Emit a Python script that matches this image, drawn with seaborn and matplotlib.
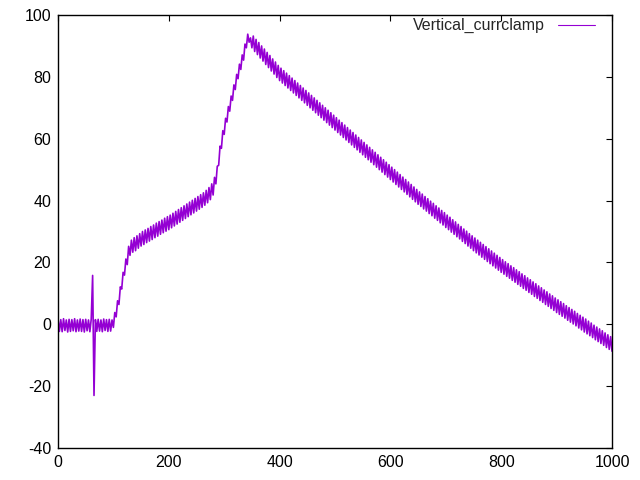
import numpy as np
import pandas as pd
import matplotlib
matplotlib.use("Agg")
import matplotlib.pyplot as plt
import seaborn as sns

# time axis (sample step 2.5)
t = np.arange(0, 1000.1, 2.5)

v_rest = [1.7, -2.3, 1.5, -2.4, 1.8, -2.0, 1.4, -2.5, 1.6, -2.3,
          1.5, -2.1, 1.8, -2.4, 1.4, -2.2, 1.7, -2.3, 1.5, -2.5,
          1.6, -2.1, 1.4, -2.4, 1.7, 15.8, -23.0, 1.5, -2.3, 1.6,
          -2.2, 1.4, -2.4, 1.7, -2.0, 1.5, -2.3, 1.6, -2.2, 1.4]
v_rise = [-1.0, 3.8, 2.4, 7.6, 6.4, 12.1, 11.4, 16.8, 15.9, 21.1,
          19.3, 25.2, 22.3, 27.2, 23.3, 28.0, 23.8, 28.6, 24.6, 29.3,
          25.3, 30.0, 25.8, 30.5, 26.4, 31.0, 26.9, 31.6, 27.4, 32.1,
          28.0, 32.7, 28.5, 33.2, 29.1, 33.7, 29.6, 34.3, 30.1, 34.8,
          30.6, 35.3, 31.2, 35.9, 31.8, 36.5, 32.4, 37.1, 33.0, 37.7,
          33.6, 38.3, 34.2, 38.9, 34.8, 39.5, 35.4, 40.1, 36.0, 40.7,
          36.6, 41.3, 37.2, 41.9, 37.8, 42.5, 38.5, 43.3, 39.3, 44.2,
          40.3, 45.4, 41.8, 47.5, 45.4, 51.1, 51.4, 57.6, 56.9, 62.6,
          61.4, 66.6, 65.4, 70.4, 68.9, 73.8, 72.4, 77.4, 75.9, 80.8,
          79.4, 84.1, 82.4, 87.1, 85.4, 90.6, 89.4, 93.8, 91.2, 92.6]
v_fall = [89.4, 93.2, 88.2, 92.1, 87.2, 91.1, 86.1, 90.0, 85.1, 89.0,
          84.0, 87.9, 83.0, 86.9, 81.9, 85.8, 80.9, 84.8, 79.8, 83.7,
          78.8, 82.8, 78.0, 82.0, 77.2, 81.2, 76.4, 80.4, 75.6, 79.6,
          74.8, 78.8, 74.0, 78.0, 73.2, 77.2, 72.4, 76.4, 71.6, 75.6,
          70.8, 74.8, 70.0, 74.0, 69.2, 73.2, 68.4, 72.4, 67.6, 71.6,
          66.8, 70.8, 66.0, 70.0, 65.2, 69.2, 64.4, 68.4, 63.6, 67.6,
          62.8, 66.8, 62.0, 66.0, 61.2, 65.2, 60.4, 64.4, 59.6, 63.6,
          58.8, 62.8, 58.0, 62.0, 57.2, 61.2, 56.4, 60.4, 55.6, 59.6,
          54.8, 58.8, 54.0, 58.0, 53.2, 57.2, 52.4, 56.4, 51.6, 55.6,
          50.8, 54.8, 50.0, 54.0, 49.2, 53.2, 48.4, 52.4, 47.6, 51.6,
          46.8, 50.8, 46.0, 50.0, 45.2, 49.2, 44.4, 48.4, 43.6, 47.6,
          42.8, 46.8, 42.0, 46.0, 41.2, 45.2, 40.4, 44.4, 39.6, 43.6]
v_tail = [38.8, 42.8, 38.1, 42.1, 37.3, 41.3, 36.6, 40.6, 35.8, 39.8,
          35.1, 39.1, 34.3, 38.3, 33.6, 37.6, 32.8, 36.8, 32.1, 36.1,
          31.3, 35.3, 30.6, 34.6, 29.8, 33.8, 29.1, 33.1, 28.3, 32.3,
          27.6, 31.6, 26.8, 30.8, 26.1, 30.1, 25.3, 29.3, 24.6, 28.6,
          23.8, 27.9, 23.1, 27.2, 22.4, 26.5, 21.7, 25.8, 21.0, 25.1,
          20.3, 24.4, 19.6, 23.7, 18.9, 23.0, 18.2, 22.3, 17.5, 21.6,
          16.8, 20.9, 16.2, 20.2, 15.5, 19.6, 14.9, 18.9, 14.2, 18.3,
          13.6, 17.6, 12.9, 17.0, 12.3, 16.3, 11.6, 15.7, 11.0, 15.0,
          10.3, 14.4, 9.7, 13.7, 9.0, 13.1, 8.4, 12.4, 7.7, 11.8,
          7.1, 11.1, 6.4, 10.5, 5.8, 9.8, 5.1, 9.2, 4.5, 8.5,
          3.8, 7.9, 3.2, 7.3, 2.6, 6.7, 2.0, 6.0, 1.3, 5.4,
          0.7, 4.8, 0.1, 4.2, -0.5, 3.5, -1.2, 2.9, -1.8, 2.3,
          -2.5, 1.7, -3.1, 1.0, -3.7, 0.4, -4.3, -0.3, -5.0, -0.9,
          -5.6, -1.5, -6.2, -2.1, -6.8, -2.8, -7.5, -3.4, -8.1, -4.0,
          -8.7]

x_ticks = [0, 200, 400, 600, 800, 1000]
y_ticks = [-40, -20, 0, 20, 40, 60, 80, 100]

df = pd.DataFrame({"t": t, "v": v_rest + v_rise + v_fall + v_tail})

sns.set_style("white")
plt.rcParams['font.family'] = ['Liberation Sans', 'DejaVu Sans']
plt.rcParams['axes.unicode_minus'] = False

fig = plt.figure(figsize=(6.4, 4.8), dpi=100)
ax = fig.add_axes([58 / 640, 32 / 480, 554 / 640, 433 / 480])

sns.lineplot(data=df, x="t", y="v", ax=ax, color="#9400d3", linewidth=1.2,
             estimator=None, sort=False, label="Vertical_currclamp")

ax.set_xlim(0, 1000)
ax.set_ylim(-40, 100)
ax.set_xticks(x_ticks)
ax.set_yticks(y_ticks)
ax.set_xlabel("")
ax.set_ylabel("")
ax.tick_params(direction="in", length=4.5, width=0.8, top=True, right=True,
               labelsize=11.5, colors="black", pad=5)
for s in ax.spines.values():
    s.set_visible(True)
    s.set_color("black")
    s.set_linewidth(1.0)

leg = ax.legend(loc="upper right", bbox_to_anchor=(1 - 14 / 554, 1),
                frameon=False, markerfirst=False, fontsize=11.5,
                handlelength=2.3, borderpad=0.1, borderaxespad=0.1,
                handletextpad=0.8)
for h in leg.get_lines():
    h.set_linewidth(0.8)

fig.savefig("out.png", dpi=100)
